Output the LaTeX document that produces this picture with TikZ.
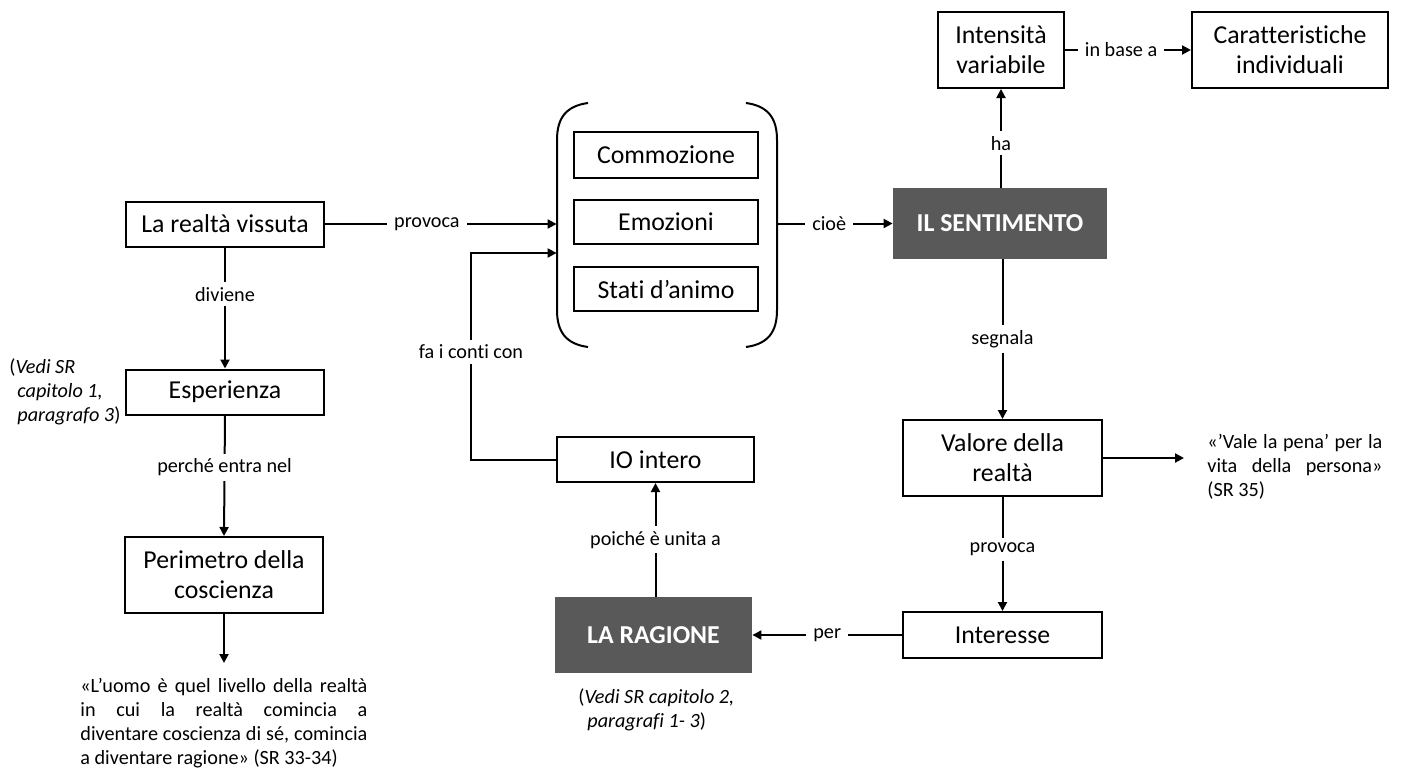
\documentclass[tikz,border=0pt]{standalone}
\usepackage{fontspec}
\setmainfont{Carlito}[Ligatures={NoCommon}]
\usetikzlibrary{arrows.meta}
\definecolor{darkg}{HTML}{595959}
\newcommand\bxf{\fontsize{12.9}{15}\selectfont}
\newcommand\lbf{\fontsize{10.1}{12}\selectfont}
\begin{document}
\begin{tikzpicture}[x=0.5pt,y=-0.5pt,
  box/.style={draw, line width=1pt, inner sep=0pt, align=center, font=\bxf},
  dark/.style={fill=darkg, draw=none, inner sep=0pt, align=center, font=\bxf\bfseries, text=white},
  arr/.style={line width=1pt, -{Triangle[length=4.5pt,width=4.5pt]}},
  lbl/.style={fill=white, font=\lbf, inner xsep=3.5pt, inner ysep=2.5pt},
  note/.style={inner sep=0pt, font=\lbf, align=left}]
\useasboundingbox (0,0) rectangle (1402,771);

% left column
\node[box, minimum width=99pt, minimum height=22.5pt] (real) at (225,224) {La realtà vissuta};
\node[box, minimum width=99pt, minimum height=22.5pt] (esp) at (225,392) {Esperienza};
\node[box, minimum width=99pt, minimum height=38pt] (peri) at (224,575) {Perimetro della\\coscienza};
\coordinate (qtip) at (225,663);
\node[note, text width=143.5pt, align=justify, anchor=north west] (q1) at (80,678)
  {«L’uomo è quel livello della realtà\linebreak in cui la realtà comincia a\linebreak diventare coscienza di sé, comincia\linebreak a diventare ragione» (SR 33-34)};
\node[note, anchor=north west] (n1) at (9,358)
  {(\textit{Vedi SR}\\\hspace*{4pt}\textit{capitolo 1,}\\\hspace*{4pt}\textit{paragrafo 3})};

% bracket group
\node[inner sep=0pt, minimum width=110pt, minimum height=122pt] (grp) at (667,225) {};
\draw[line width=1pt] (588,103) .. controls (566,106) and (557,118) .. (557,140) -- (557,310) .. controls (557,332) and (566,344) .. (588,347);
\draw[line width=1pt] (746,103) .. controls (768,106) and (777,118) .. (777,140) -- (777,310) .. controls (777,332) and (768,344) .. (746,347);
\node[box, minimum width=92pt, minimum height=23pt] (com) at (666,155) {Commozione};
\node[box, minimum width=92pt, minimum height=22pt] (emo) at (666,222) {Emozioni};
\node[box, minimum width=92pt, minimum height=22pt] (sta) at (666,289) {Stati d’animo};

% right side
\node[dark, minimum width=107pt, minimum height=35.5pt] (sent) at (1000,223.5) {IL SENTIMENTO};
\node[box, minimum width=63pt, minimum height=38pt] (int) at (1001,50) {Intensità\\variabile};
\node[box, minimum width=98pt, minimum height=38pt] (car) at (1290,50) {Caratteristiche\\individuali};
\node[box, minimum width=99.5pt, minimum height=38pt] (val) at (1002.5,458) {Valore della\\realtà};
\node[box, minimum width=99.5pt, minimum height=23pt] (inte) at (1002.5,635) {Interesse};
\node[note, text width=87.5pt, align=justify, anchor=north west] (q2) at (1207,434)
  {«’Vale la pena’ per la\linebreak vita della persona»\linebreak (SR 35)};

% middle bottom
\node[dark, minimum width=98.5pt, minimum height=38pt] (rag) at (653.5,635) {LA RAGIONE};
\node[box, minimum width=98.5pt, minimum height=22.5pt] (io) at (655.5,459.5) {IO intero};
\node[note, anchor=north west] (n2) at (578,688)
  {(\textit{Vedi SR capitolo 2,}\\\hspace*{4.5pt}\textit{paragrafi 1- 3})};

% connectors
\draw[arr] (real.east) -- node[lbl,pos=0.44]{provoca} (real.east -| grp.west);
\draw[arr] (real.south) -- node[lbl,pos=0.385]{diviene} (esp.north);
\draw[arr] (esp.south) -- node[lbl,pos=0.43]{perché entra nel} (peri.north);
\draw[arr] (peri.south) -- (peri.south |- qtip);
\coordinate (fa1) at (471,459.5);
\coordinate (fa2) at (471,253);
\draw[arr] (io.west) -- (fa1) -- node[lbl,pos=0.52]{fa i conti con} (fa2) -- (fa2 -| grp.west);
\draw[arr] (grp.east |- sent.west) -- node[lbl,pos=0.45]{cioè} (sent.west);
\draw[arr] (sent.north -| int.south) -- node[lbl,pos=0.45]{ha} (int.south);
\draw[arr] (int.east) -- node[lbl,pos=0.445]{in base a} (car.west);
\draw[arr] (sent.south -| val.north) -- node[lbl]{segnala} (val.north);
\draw[arr, shorten >=11.5pt] (val.east) -- (val.east -| q2.west);
\draw[arr] (val.south) -- node[lbl,pos=0.46]{provoca} (inte.north);
\draw[arr] (inte.west) -- node[lbl]{per} (inte.west -| rag.east);
\draw[arr] (io.south |- rag.north) -- node[lbl]{poiché è unita a} (io.south);
\end{tikzpicture}
\end{document}
